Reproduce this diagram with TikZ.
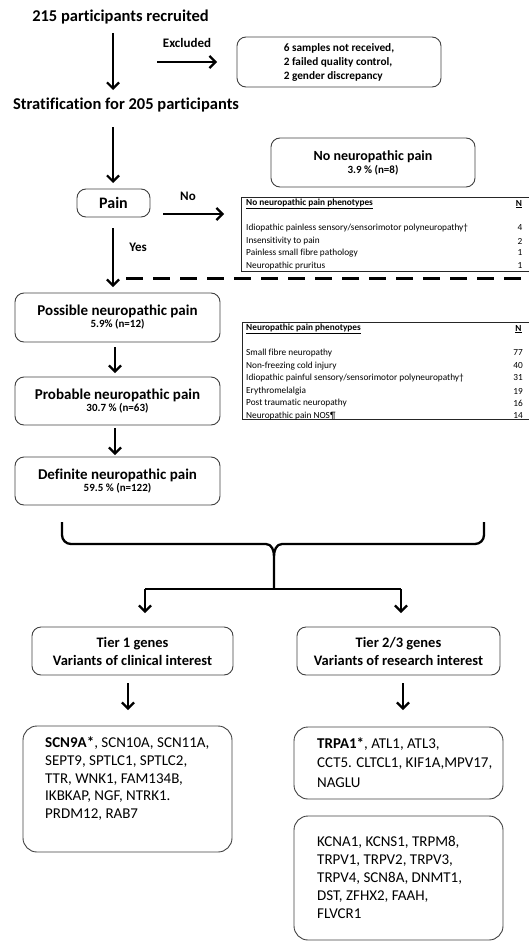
\documentclass[tikz,border=0pt]{standalone}
\usepackage{fontspec}
\setmainfont{Carlito}[Ligatures=NoCommon]
\usetikzlibrary{arrows.meta}
\begin{document}
\begin{tikzpicture}[x=1pt,y=-1pt,
  arr/.style={line width=2.2pt,-{Straight Barb[length=6pt,width=12pt]}},
  rbox/.style={draw=black!75,line width=0.9pt,rounded corners=9pt,inner sep=0pt},
  tbox/.style={draw=black!85,line width=1pt,inner sep=0pt},
  bigtxt/.style={font=\fontsize{16.5}{19}\selectfont\bfseries,inner sep=0pt},
  lbl/.style={font=\fontsize{13}{15}\selectfont\bfseries,inner sep=0pt},
  tabtxt/.style={font=\fontsize{9.3}{11}\selectfont,inner sep=0pt,anchor=west},
  tabhd/.style={font=\fontsize{9.3}{11}\selectfont\bfseries,inner sep=0pt},
  genetxt/.style={font=\fontsize{15}{17.8}\selectfont,inner sep=0pt,align=left,anchor=north west}
]
\useasboundingbox (0,0) rectangle (529,942);

% top
\node[bigtxt] (title) at (120.5,17) {215 participants recruited};
\node[bigtxt] (strat) at (126,105) {Stratification for 205 participants};
\node[lbl] (exlbl) at (187,43) {Excluded};
\node[rbox,minimum width=204pt,minimum height=50pt,align=left,
      font=\fontsize{11.3}{14}\selectfont\bfseries] (excl) at (339,62)
  {6 samples not received,\\2 failed quality control,\\2 gender discrepancy};

\coordinate (a1s) at (113,33); \coordinate (a1e) at (113,90);
\draw[arr] (a1s) -- (a1e);
\coordinate (exs) at (157,62); \coordinate (exe) at (217,62);
\draw[arr] (exs) -- (exe);

% no neuropathic pain box
\node[rbox,minimum width=204pt,minimum height=49pt,align=center] (nonp) at (373,162.5)
  {{\fontsize{14}{16}\selectfont\bfseries No neuropathic pain}\\[1pt]{\fontsize{11}{13}\selectfont\bfseries 3.9 \% (n=8)}};

\coordinate (a2s) at (113,127); \coordinate (a2e) at (113,183);
\draw[arr] (a2s) -- (a2e);

\node[rbox,minimum width=73pt,minimum height=28pt,font=\fontsize{16}{18}\selectfont\bfseries] (pain) at (113.5,203) {Pain};
\node[lbl] (nolbl) at (188,196) {No};
\coordinate (nos) at (163,214); \coordinate (noe) at (224,214);
\draw[arr] (nos) -- (noe);
\node[lbl] (yeslbl) at (138,247) {Yes};
\coordinate (ys) at (113,228); \coordinate (ye) at (113,287);
\draw[arr] (ys) -- (ye);

% dashed line
\coordinate (ds) at (126,278); \coordinate (de) at (529,278);
\draw[line width=3pt,dash pattern=on 17pt off 10pt] (ds) -- (de);

% table 1
\node[tbox,minimum width=289pt,minimum height=74pt,anchor=north west] (tab1) at (241,197) {};
\node[tabhd,anchor=west] (t1h) at (246,204) {\underline{No neuropathic pain phenotypes}};
\node[tabhd] (t1n) at (519,204) {\underline{N}};
\node[tabtxt] (t1r1) at (246,228) {Idiopathic painless sensory/sensorimotor polyneuropathy†};
\node[tabtxt] (t1r2) at (246,241) {Insensitivity to pain};
\node[tabtxt] (t1r3) at (246,253) {Painless small fibre pathology};
\node[tabtxt] (t1r4) at (246,266) {Neuropathic pruritus};
\node[tabtxt,anchor=east] (t1v1) at (522.5,228) {4};
\node[tabtxt,anchor=east] (t1v2) at (522.5,241) {2};
\node[tabtxt,anchor=east] (t1v3) at (522.5,253) {1};
\node[tabtxt,anchor=east] (t1v4) at (522.5,266) {1};

% table 2
\node[tbox,minimum width=288pt,minimum height=97pt,anchor=north west] (tab2) at (242,322) {};
\node[tabhd,anchor=west] (t2h) at (246,329) {\underline{Neuropathic pain phenotypes}};
\node[tabhd] (t2n) at (518.5,329) {\underline{N}};
\node[tabtxt] (t2r1) at (246,353) {Small fibre neuropathy};
\node[tabtxt] (t2r2) at (246,366) {Non-freezing cold injury};
\node[tabtxt] (t2r3) at (246,378) {Idiopathic painful sensory/sensorimotor polyneuropathy†};
\node[tabtxt] (t2r4) at (246,391) {Erythromelalgia};
\node[tabtxt] (t2r5) at (246,403) {Post traumatic neuropathy};
\node[tabtxt] (t2r6) at (246,416) {Neuropathic pain NOS¶};
\node[tabtxt,anchor=east] (t2v1) at (523,353) {77};
\node[tabtxt,anchor=east] (t2v2) at (523,366) {40};
\node[tabtxt,anchor=east] (t2v3) at (523,378) {31};
\node[tabtxt,anchor=east] (t2v4) at (523,391) {19};
\node[tabtxt,anchor=east] (t2v5) at (523,403) {16};
\node[tabtxt,anchor=east] (t2v6) at (523,416) {14};

% left chain
\node[rbox,minimum width=205pt,minimum height=49pt,align=center] (poss) at (117.5,317.5)
  {{\fontsize{15}{17}\selectfont\bfseries Possible neuropathic pain}\\[0pt]{\fontsize{11}{13}\selectfont\bfseries 5.9\% (n=12)}};
\node[rbox,minimum width=205pt,minimum height=48pt,align=center] (prob) at (117.5,401)
  {{\fontsize{15}{17}\selectfont\bfseries Probable neuropathic pain}\\[0pt]{\fontsize{11}{13}\selectfont\bfseries 30.7 \% (n=63)}};
\node[rbox,minimum width=205pt,minimum height=48pt,align=center] (defi) at (117.5,481)
  {{\fontsize{15}{17}\selectfont\bfseries Definite neuropathic pain}\\[0pt]{\fontsize{11}{13}\selectfont\bfseries 59.5 \% (n=122)}};
\coordinate (a4s) at (115,347); \coordinate (a4e) at (115,373);
\draw[arr] (a4s) -- (a4e);
\coordinate (a5s) at (115,428); \coordinate (a5e) at (115,455);
\draw[arr] (a5s) -- (a5e);

% brace
\coordinate (bl) at (62,522); \coordinate (br) at (484,522);
\coordinate (bm) at (274,589);
\draw[line width=2.3pt,line join=round]
  (bl) -- (62,535) to[out=-90,in=180] (71,544) -- (266,544) to[out=0,in=90] (274,556) -- (bm);
\draw[line width=2.3pt,line join=round]
  (br) -- (484,535) to[out=-90,in=0] (475,544) -- (282,544) to[out=180,in=90] (274,556);
\coordinate (bL) at (145,589); \coordinate (bR) at (401,589);
\draw[line width=2pt] (bL) -- (bR);
\coordinate (bLe) at (145,613); \coordinate (bRe) at (401,613);
\draw[arr] (bL) -- (bLe);
\draw[arr] (bR) -- (bRe);

% tiers
\node[rbox,minimum width=201pt,minimum height=48pt,align=center,font=\fontsize{14.5}{18}\selectfont\bfseries] (tier1) at (132.5,651)
  {Tier 1 genes\\Variants of clinical interest};
\node[rbox,minimum width=203pt,minimum height=48pt,align=center,font=\fontsize{14.5}{18}\selectfont\bfseries] (tier2) at (398.5,651)
  {Tier 2/3 genes\\Variants of research interest};
\coordinate (t1s) at (128,683); \coordinate (t1e) at (128,710);
\draw[arr] (t1s) -- (t1e);
\coordinate (t2s) at (403,683); \coordinate (t2e) at (403,710);
\draw[arr] (t2s) -- (t2e);

% gene boxes
\node[rbox,rounded corners=14pt,minimum width=209pt,minimum height=126pt] (g1) at (127.5,789) {};
\node[genetxt] (g1t) at (45,736.5)
  {\textbf{SCN9A*}, SCN10A, SCN11A,\\SEPT9, SPTLC1, SPTLC2,\\TTR, WNK1, FAM134B,\\IKBKAP, NGF, NTRK1.\\PRDM12, RAB7};
\node[rbox,rounded corners=14pt,minimum width=209pt,minimum height=72pt] (g2a) at (398.5,763) {};
\node[genetxt,font=\fontsize{15}{19.3}\selectfont] (g2at) at (317,737.5)
  {\textbf{TRPA1*}, ATL1, ATL3,\\CCT5. CLTCL1, KIF1A,MPV17,\\NAGLU};
\node[rbox,rounded corners=14pt,minimum width=209pt,minimum height=124pt] (g2b) at (398.5,878) {};
\node[genetxt] (g2bt) at (317,836.5)
  {KCNA1, KCNS1, TRPM8,\\TRPV1, TRPV2, TRPV3,\\TRPV4, SCN8A, DNMT1,\\DST, ZFHX2, FAAH,\\FLVCR1};
\end{tikzpicture}
\end{document}
